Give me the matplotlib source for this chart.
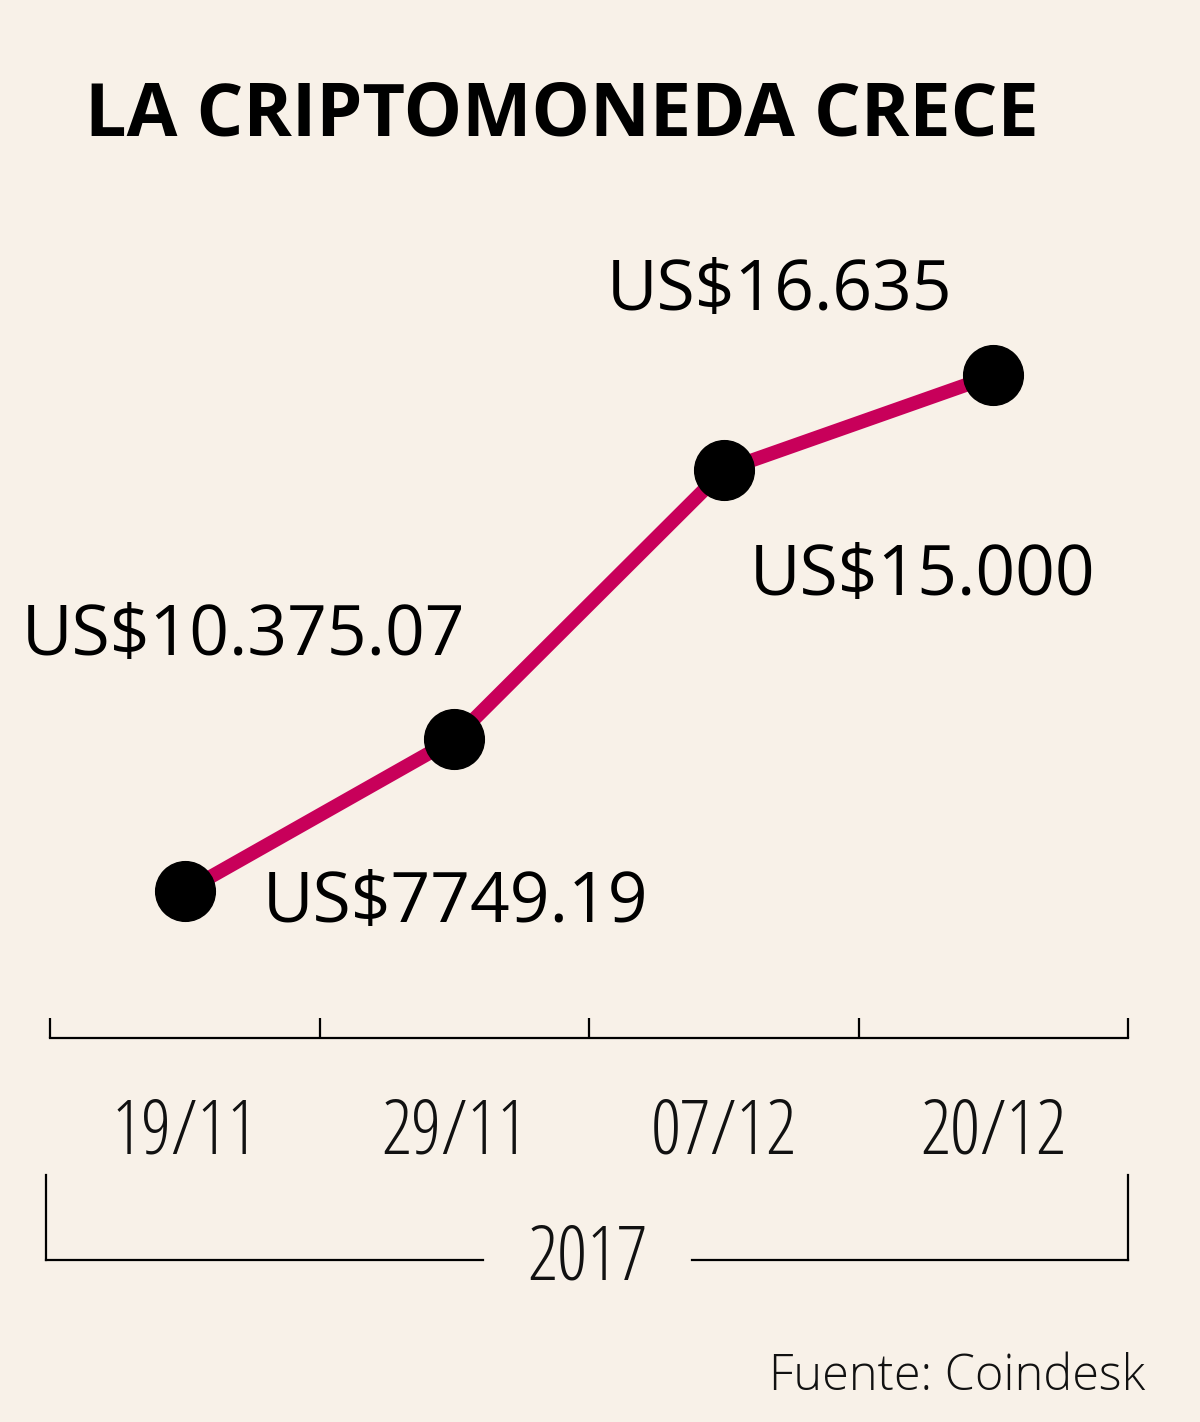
import matplotlib
matplotlib.use("Agg")
import matplotlib.pyplot as plt
from matplotlib.lines import Line2D
from matplotlib.font_manager import FontProperties

# Datos
fechas = ["19/11", "29/11", "07/12", "20/12"]
precios = [7749.19, 10375.07, 15000, 16635]
etiquetas = ["US$7749.19", "US$10.375.07", "US$15.000", "US$16.635"]
anio = "2017"

W, H = 1200, 1422
fondo = "#F8F1E8"
rojo = "#C8005A"

fuente_fecha = FontProperties(family="Open Sans", stretch="condensed", weight=300, size=54)
fuente_valor = FontProperties(family="Open Sans", weight="normal", size=50)
fuente_titulo = FontProperties(family="Open Sans", weight="bold", size=53)
fuente_nota = FontProperties(family="Open Sans", weight=300, size=35)

fig = plt.figure(figsize=(W / 100, H / 100), dpi=100, facecolor=fondo)

def px(x, y):
    # pixeles (desde arriba a la izquierda) -> fraccion de figura
    return x / W, 1 - y / H

# Ejes: de x=50 a 1128 px, de y=200 a 1038 px
ax = fig.add_axes([50 / W, 1 - 1038 / H, (1128 - 50) / W, (1038 - 200) / H])
ax.set_facecolor(fondo)
xs = list(range(len(fechas)))
ax.plot(xs, precios, color=rojo, lw=10, solid_capstyle="butt", zorder=2)
ax.plot(xs, precios, "o", color="black", ms=43, zorder=3)
ax.set_xlim(-0.5, len(fechas) - 0.5)
ax.set_ylim(5226, 19654)

for s in ["top", "left", "right"]:
    ax.spines[s].set_visible(False)
ax.spines["bottom"].set_linewidth(1.6)
ax.set_yticks([])
ax.set_xticks([i - 0.5 for i in range(len(fechas) + 1)])
ax.set_xticklabels([])
ax.tick_params(axis="x", direction="in", length=14.5, width=1.6, color="black")
ax.set_xticks(xs, minor=True)
ax.set_xticklabels(fechas, minor=True, fontproperties=fuente_fecha, color="#111111")
ax.tick_params(axis="x", which="minor", length=0, pad=42)

# Etiquetas de valores
pos_etiquetas = [(263, 922), (22, 655), (750, 595), (607, 310)]
for txt, (x, y) in zip(etiquetas, pos_etiquetas):
    fx, fy = px(x, y)
    fig.text(fx, fy, txt, fontproperties=fuente_valor, ha="left", va="baseline", color="black")

# Titulo
fx, fy = px(85, 135)
fig.text(fx, fy, "LA CRIPTOMONEDA CRECE", fontproperties=fuente_titulo,
         ha="left", va="baseline", color="black")

# Llave del año
lw = 1.6
for xa, ya, xb, yb in [(46, 1175, 46, 1260), (46, 1260, 483, 1260),
                       (692, 1260, 1128, 1260), (1128, 1175, 1128, 1260)]:
    (x1, y1), (x2, y2) = px(xa, ya), px(xb, yb)
    fig.add_artist(Line2D([x1, x2], [y1, y2], color="black", lw=lw))
fx, fy = px(587, 1280)
fig.text(fx, fy, anio, fontproperties=fuente_fecha, ha="center", va="baseline", color="#111111")

# Fuente
fx, fy = px(1145, 1390)
fig.text(fx, fy, "Fuente: Coindesk", fontproperties=fuente_nota,
         ha="right", va="baseline", color="#111111")

fig.savefig("out.png", dpi=100, facecolor=fondo)
